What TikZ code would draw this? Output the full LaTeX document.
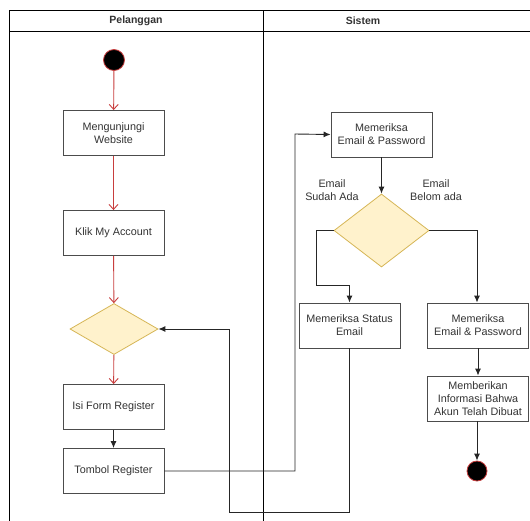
\documentclass[tikz,border=0pt]{standalone}
\usepackage{fontspec}
\setmainfont{Liberation Sans}
\usepackage{xcolor}
\usetikzlibrary{arrows.meta,shapes.geometric}

\definecolor{flowred}{RGB}{200,62,62}
\definecolor{choicefill}{HTML}{FFF2CC}
\definecolor{choicedraw}{HTML}{D6B656}

\begin{document}
\begin{tikzpicture}[x=1pt, y=-1pt,
    font=\fontsize{10.8}{12.8}\selectfont, text=black!80,
    box/.style={draw=black!70, line width=0.9pt, fill=white, minimum width=101pt, minimum height=45pt, align=center, inner sep=1pt},
    choice/.style={diamond, draw=choicedraw, fill=choicefill, line width=0.8pt, inner sep=0pt},
    startdot/.style={circle, fill=black, draw=flowred, line width=0.8pt, minimum size=21pt, inner sep=0pt},
    redflow/.style={draw=flowred, line width=0.9pt, -{Straight Barb[length=5pt,width=9pt]}},
    flow/.style={draw=black!85, line width=0.9pt, -{Latex[length=7pt,width=6pt]}},
    link/.style={draw=black!85, line width=0.9pt}]
    \clip (0,0) rectangle (530,520);
    \fill[white] (0,0) rectangle (530,520);
    \draw[line width=1pt] (9,540) -- (9,10) -- (540,10);
    \draw[line width=1pt] (9,31) -- (540,31);
    \draw[line width=1pt] (263,10) -- (263,540);
    \node[font=\fontsize{10.5}{12.6}\selectfont\bfseries] (lane1) at (136,21) {Pelanggan};
    \node[font=\fontsize{10.5}{12.6}\selectfont\bfseries] (lane2) at (363,21) {Sistem};

    \node[startdot] (start) at (114,60) {};
    \node[box] (visit) at (113.5,133) {Mengunjungi\\Website};
    \node[box] (klik) at (113.5,233) {Klik My Account};
    \node[choice, minimum width=88pt, minimum height=51pt] (dec1) at (114,329) {};
    \node[box] (isi) at (113.5,407) {Isi Form Register};
    \node[box] (tombol) at (113.5,471) {Tombol Register};

    \node[box] (check) at (381.5,134.5) {Memeriksa\\Email \& Password};
    \node[choice, minimum width=95pt, minimum height=73pt] (dec2) at (381.5,230.5) {};
    \node (lbl1) at (332,190) [align=center] {Email\\Sudah Ada};
    \node (lbl2) at (436,190) [align=center] {Email\\Belom ada};
    \node[box] (status) at (349.5,325.5) {Memeriksa Status\\Email};
    \node[box] (result) at (478,325.5) {Memeriksa\\Email \& Password};
    \node[box] (info) at (478,398.5) {Memberikan\\Informasi Bahwa\\Akun Telah Dibuat};
    \node[startdot, minimum size=20pt] (stop) at (477,471) {};

    \coordinate (up) at (295,134);
    \coordinate (bend) at (316,285);
    \coordinate (back) at (229,512);

    \draw[redflow] (start) -- (visit);
    \draw[redflow] (visit) -- (klik);
    \draw[redflow] (klik) -- (dec1);
    \draw[redflow] (dec1) -- (isi);
    \draw[flow] (isi) -- (tombol);
    \draw[flow] (tombol.east) -| (up) -- (check.west);
    \draw[flow] (check) -- (dec2);
    \draw[flow] (dec2.west) -| (bend) -| (status.north);
    \draw[flow] (dec2.east) -| ([xshift=-1pt]result.north);
    \draw[flow] (result) -- (info);
    \draw[flow] (info.south -| stop) -- (stop);
    \draw[flow] (status.south) |- (back) |- (dec1.east);
\end{tikzpicture}
\end{document}
